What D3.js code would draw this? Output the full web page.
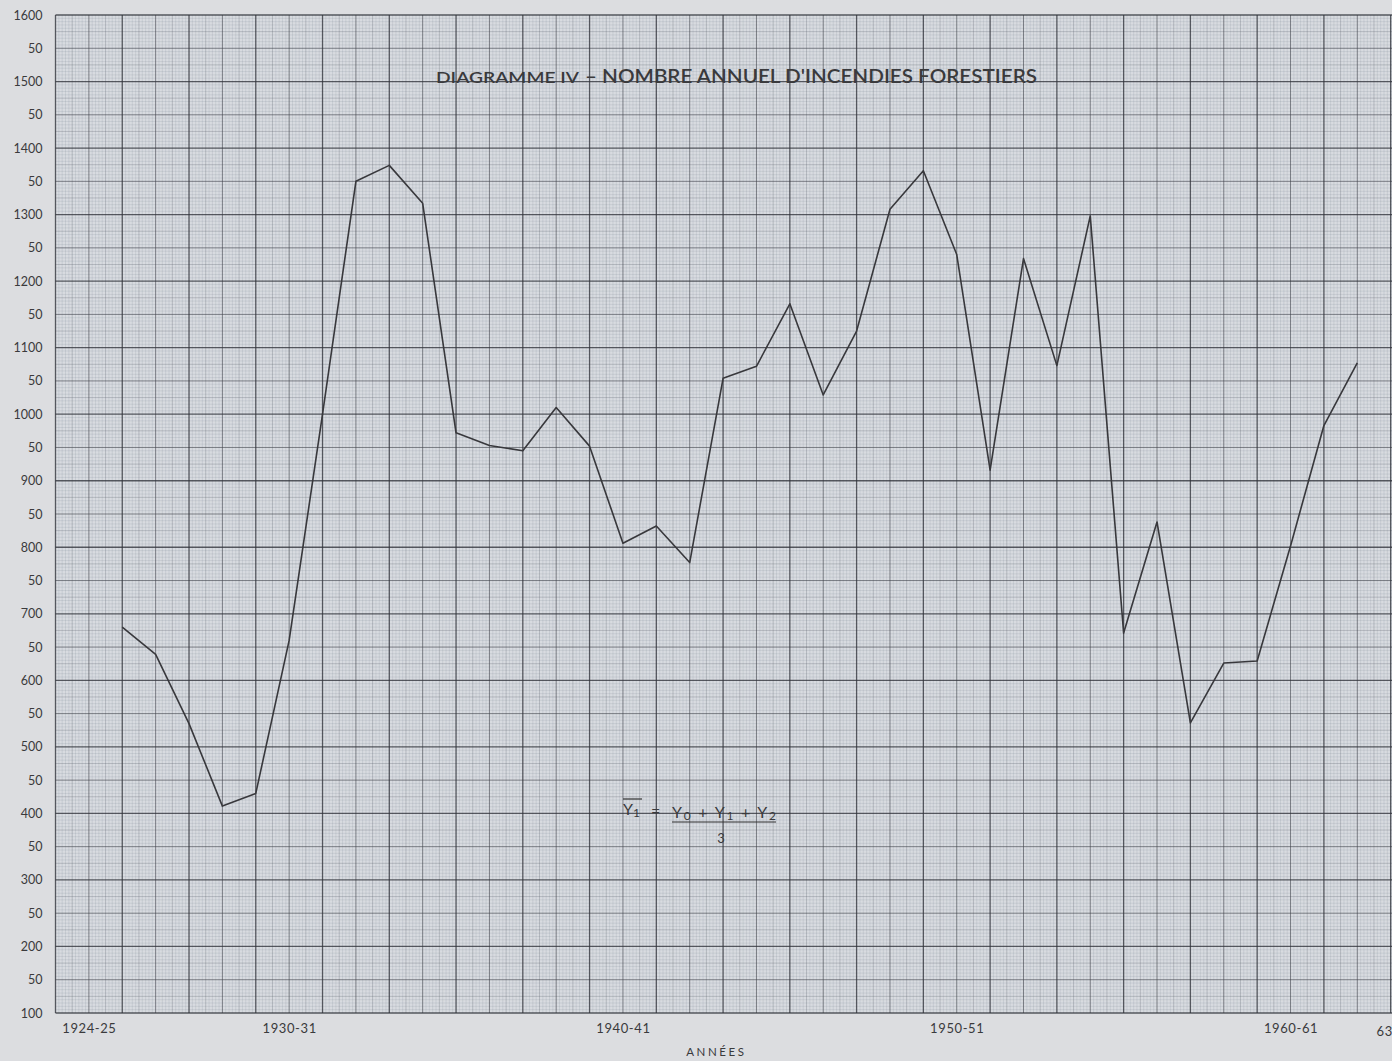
<!DOCTYPE html>
<html><head><meta charset="utf-8">
<script src="https://cdn.jsdelivr.net/npm/d3@7"></script>
<style>
html,body{margin:0;padding:0;background:#dcdde0;overflow:hidden}
svg{display:block}
text{font-family:Lato,"Open Sans",sans-serif;fill:#3a3a3c}
</style></head><body>
<svg id="c" width="1392" height="1061"></svg>
<script>
// Season start years (1925 = season 1925-26)
const seasonStart = [1925,1926,1927,1928,1929,1930,1931,1932,1933,1934,1935,1936,1937,1938,1939,1940,1941,1942,1943,1944,1945,1946,1947,1948,1949,1950,1951,1952,1953,1954,1955,1956,1957,1958,1959,1960,1961,1962];
// Annual number of forest fires (3-year moving average)
const fires = [680,639,535,411,430,660,1000,1350,1374,1317,972,953,945,1010,952,806,832,777,1054,1072,1166,1029,1125,1308,1366,1240,916,1234,1073,1298,671,838,536,626,629,802,983,1077];
const yTickValues = d3.range(100, 1601, 50);
const xTickYears = [1924,1930,1940,1950,1960];
const extraXLabel = "63";
const titleSmall = "DIAGRAMME IV";
const titleMain = "– NOMBRE ANNUEL D'INCENDIES FORESTIERS";
const xAxisTitle = "ANNÉES";

(function(){
const svg = d3.select("#c");
const W = 1392;
const pLeft = 55.5, pTop = 15, pBottom = 1013;
const x = d3.scaleLinear().domain([1923, 1963.04]).range([pLeft, W]);
const y = d3.scaleLinear().domain([100, 1600]).range([pBottom, pTop]);

svg.append("rect").attr("x", pLeft).attr("y", pTop).attr("width", W-pLeft).attr("height", pBottom-pTop).attr("fill", "#d8dbe0");

const grid = svg.append("g");
const styles = [
  {w:0.5, c:"rgba(110,120,135,0.30)"},
  {w:0.7, c:"rgba(90,96,108,0.42)"},
  {w:1.0, c:"rgba(65,68,76,0.62)"},
  {w:1.3, c:"rgba(48,50,58,0.78)"}
];
function lvl(i){ return i%20===0?3:(i%10===0?2:(i%5===0?1:0)); }
const vIdx = d3.range(0, 402);
const hIdx = d3.range(0, 301);
[0,1,2,3].forEach(L=>{
  const g = grid.append("g").attr("stroke", styles[L].c).attr("stroke-width", styles[L].w);
  vIdx.filter(i=>lvl(i)===L).forEach(i=>{
    const xx = x(1923 + i*0.1);
    if (xx <= W) g.append("line").attr("x1", xx).attr("x2", xx).attr("y1", pTop).attr("y2", pBottom);
  });
  hIdx.filter(j=>lvl(j)===L).forEach(j=>{
    const yy = y(100 + j*5);
    g.append("line").attr("x1", pLeft).attr("x2", W).attr("y1", yy).attr("y2", yy);
  });
});

// axes
const yAxis = d3.axisLeft(y).tickValues(yTickValues).tickSize(0).tickPadding(13)
  .tickFormat(v => v % 100 === 0 ? String(v) : "50");
const gy = svg.append("g").attr("transform", `translate(${pLeft},0)`).call(yAxis);
gy.select(".domain").remove();
gy.selectAll("text").attr("font-size", 12.5).attr("fill", "#38383a").style("font-family", "Lato, 'Open Sans', sans-serif");

const xAxis = d3.axisBottom(x).tickValues(xTickYears).tickSize(0).tickPadding(11)
  .tickFormat(v => `${v}-${String((v+1)%100).padStart(2,"0")}`);
const gx = svg.append("g").attr("transform", `translate(0,${pBottom})`).call(xAxis);
gx.select(".domain").remove();
gx.selectAll("text").attr("font-size", 13).attr("letter-spacing", 0.6).attr("fill", "#38383a").style("font-family", "Lato, 'Open Sans', sans-serif");

svg.append("text").attr("x", x(1962.82)).attr("y", pBottom + 23).attr("text-anchor", "middle")
  .attr("font-size", 13).attr("letter-spacing", 0.6).text(extraXLabel);

svg.append("text").attr("x", x(1942.8)).attr("y", pBottom + 43).attr("text-anchor", "middle")
  .attr("font-size", 11.5).attr("letter-spacing", 2.6).text(xAxisTitle);

// data line
const pts = seasonStart.map((s,i)=>({s, v:fires[i]}));
svg.append("path").datum(pts)
  .attr("fill", "none").attr("stroke", "#38383c").attr("stroke-width", 1.6).attr("stroke-linejoin", "round")
  .attr("d", d3.line().x(d=>x(d.s)).y(d=>y(d.v)));

// title
svg.append("text").attr("x", 436).attr("y", 83).attr("font-size", 15).attr("font-weight", 600).attr("fill", "#2e2e30")
  .attr("textLength", 143).attr("lengthAdjust", "spacingAndGlyphs").text(titleSmall);
svg.append("text").attr("x", 585).attr("y", 83).attr("font-size", 20).attr("font-weight", 600).attr("fill", "#2e2e30")
  .attr("textLength", 452).attr("lengthAdjust", "spacingAndGlyphs").text(titleMain);

// formula
const f = svg.append("g").attr("font-size", 16).attr("fill", "#333");
const t1 = f.append("text").attr("x", 623).attr("y", 815);
t1.append("tspan").text("Y");
t1.append("tspan").attr("font-size", 12).attr("dy", 2).text("1");
f.append("line").attr("x1", 623).attr("x2", 642).attr("y1", 799).attr("y2", 799).attr("stroke", "#333").attr("stroke-width", 1.2);
f.append("text").attr("x", 651).attr("y", 817).text("=");
const num = f.append("text").attr("x", 672).attr("y", 818).attr("textLength", 104).attr("lengthAdjust", "spacing");
num.append("tspan").text("Y");
num.append("tspan").attr("font-size", 12).attr("dy", 2).text("0");
num.append("tspan").attr("dy", -2).text(" + Y");
num.append("tspan").attr("font-size", 12).attr("dy", 2).text("1");
num.append("tspan").attr("dy", -2).text(" + Y");
num.append("tspan").attr("font-size", 12).attr("dy", 2).text("2");
f.append("line").attr("x1", 672).attr("x2", 776).attr("y1", 822).attr("y2", 822).attr("stroke", "#333").attr("stroke-width", 1.2);
f.append("text").attr("x", 721).attr("y", 843).attr("text-anchor", "middle").attr("font-size", 13).text("3");
})();
</script>
</body></html>
